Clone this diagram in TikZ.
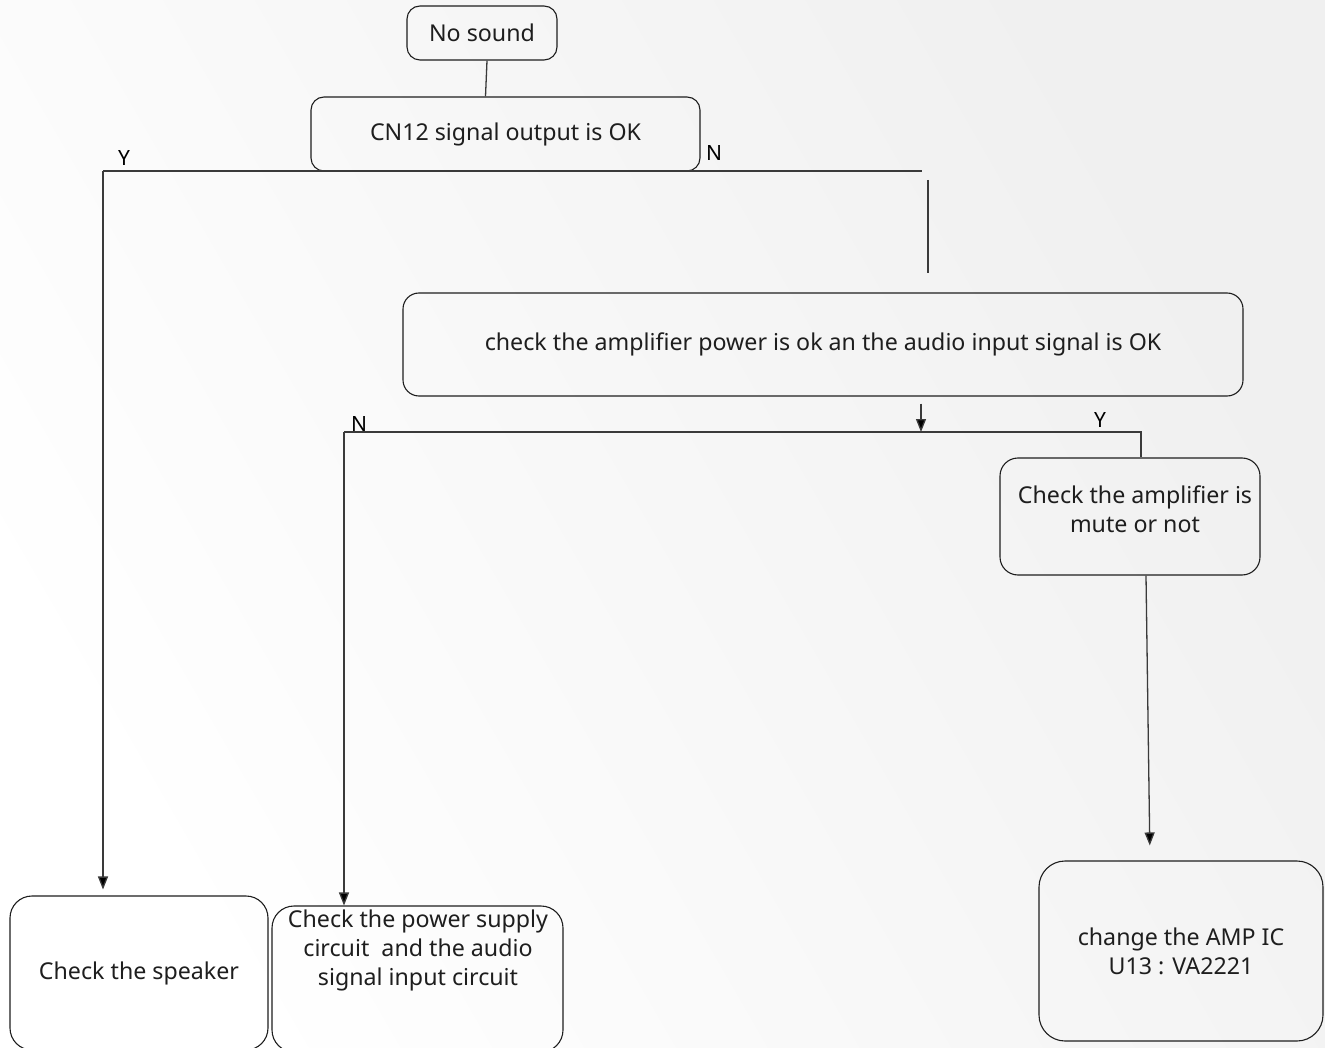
\documentclass[tikz,border=0pt]{standalone}
\usepackage{fontspec}
\setmainfont{Noto Sans}
\usetikzlibrary{arrows.meta,calc}
\definecolor{inkc}{HTML}{1E1E1E}
\definecolor{linec}{HTML}{3A3A3A}
\begin{document}
\begin{tikzpicture}[x=1pt,y=-1pt,
  box/.style={draw=inkc,line width=1.1pt,rounded corners=13pt,align=center,
    inner sep=0pt,text=inkc,font=\fontsize{23.2}{29}\selectfont},
  bigbox/.style={box,rounded corners=22pt},
  lbl/.style={text=black,font=\fontsize{21}{24}\selectfont,inner sep=0pt},
  txt/.style={text=inkc,align=center,inner sep=0pt,font=\fontsize{23.2}{29}\selectfont},
  wire/.style={draw=linec,line width=1.3pt},
  flow/.style={wire,-{Triangle[width=10pt,length=13pt,fill=black]}}]
\useasboundingbox (0,0) rectangle (1325,1048);
\shade[left color=white,right color=black!6,shading angle=120] (0,0) rectangle (1325,1048);

% process boxes
\node[box,minimum width=150pt,minimum height=54pt] (nosound) at (482,33) {No sound};
\node[box,minimum width=389pt,minimum height=74pt] (cn12) at (505.5,134) {CN12 signal output is OK};
\node[box,rounded corners=16pt,minimum width=840pt,minimum height=103pt] (amppow) at (823,344.5)
  {check the amplifier power is ok an the audio input signal is OK};
\node[box,rounded corners=18pt,minimum width=260pt,minimum height=117pt] (mute) at (1130,516.5) {};
\node[txt] (mutetxt) at (1135,509) {Check the amplifier is\\mute or not};
\node[bigbox,minimum width=258pt,minimum height=154pt] (speaker) at (139,973) {Check the speaker};
\node[bigbox,minimum width=291pt,minimum height=146pt] (supply) at (417.5,979) {};
\node[txt] (supplytxt) at (418,950) {Check the power supply\\circuit\ \ and the audio\\signal input circuit};
\node[bigbox,rounded corners=26pt,minimum width=284pt,minimum height=180pt] (ampic) at (1181,951) {change the AMP IC\\U13 : VA2221};

% branch points
\coordinate (ysplit) at (103,171);
\coordinate (nsplit) at (922,171);
\coordinate (stubtop) at (928,180);
\coordinate (stubbot) at (928,273);
\coordinate (nleft) at (344,432);
\coordinate (yright) at (1141,432);
\coordinate (tapin) at (921,432);

% connectors
\draw[wire] ([xshift=5pt]nosound.south) -- ([xshift=-20pt]cn12.north);
\draw[wire] (ysplit) -- (nsplit);
\draw[wire] (stubtop) -- (stubbot);
\draw[flow,shorten >=6pt] (ysplit) -- (ysplit |- speaker.north);
\draw[flow] ([xshift=98pt,yshift=-7pt]amppow.south) -- (tapin);
\draw[wire] (nleft) -- (yright) -- (yright |- mute.north);
\draw[flow] (nleft) -- (nleft |- supply.north);
\draw[flow,shorten >=15pt] ([xshift=16pt]mute.south) -- ([xshift=-31pt]ampic.north);

% branch labels
\node[lbl] (ylab1) at (124,158) {Y};
\node[lbl] (nlab1) at (714,153) {N};
\node[lbl] (nlab2) at (359,424) {N};
\node[lbl] (ylab2) at (1100,420) {Y};
\end{tikzpicture}
\end{document}
